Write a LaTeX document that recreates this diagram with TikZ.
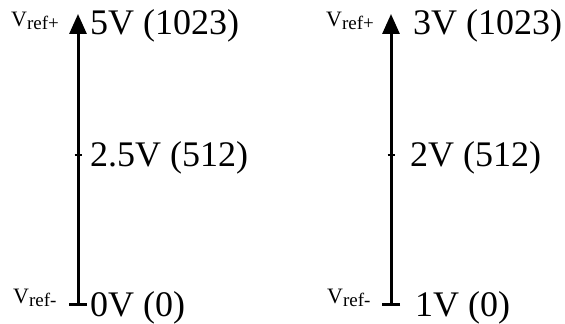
\documentclass[tikz,border=0pt]{standalone}
\usepackage{fontspec}
\setmainfont{Liberation Serif}
\usetikzlibrary{arrows.meta, positioning}
\tikzset{
  axis/.style={line width=3pt, {Bar[width=18pt]}-{Triangle[length=20pt,width=17pt]}},
  tick/.style={line width=1.2pt},
  value/.style={anchor=base west, inner sep=0pt, font=\fontsize{36}{40}\selectfont},
  vref/.style={anchor=base west, inner sep=0pt, font=\fontsize{22}{24}\selectfont},
}
\newcommand{\vrefsub}[1]{V\raisebox{-3pt}{\fontsize{19}{20}\selectfont ref#1}}

\begin{document}
\begin{tikzpicture}[x=1pt, y=1pt]
\useasboundingbox (0,0) rectangle (565,324);
% left scale
\coordinate (lo1) at (78,18);
\coordinate (hi1) at (78,310);
\coordinate (mid1) at (78,169);
\draw[axis] (lo1) -- (hi1);
\draw[tick] ([xshift=-3.5pt]mid1) -- ([xshift=3.5pt]mid1);
\node[vref] (vp1) at (11,297) {\vrefsub{+}};
\node[vref] (vm1) at (13,20) {\vrefsub{-}};
\node[value] (top1) at (90,289) {5V (1023)};
\node[value] (cen1) at (90,157) {2.5V (512)};
\node[value] (bot1) at (90,8) {0V (0)};
% right scale
\coordinate (lo2) at (391,18);
\coordinate (hi2) at (391,310);
\coordinate (mid2) at (391,169);
\draw[axis] (lo2) -- (hi2);
\draw[tick] ([xshift=-3.5pt]mid2) -- ([xshift=3.5pt]mid2);
\node[vref] (vp2) at (326,297) {\vrefsub{+}};
\node[vref] (vm2) at (327,20) {\vrefsub{-}};
\node[value] (top2) at (413,289) {3V (1023)};
\node[value] (cen2) at (410,157) {2V (512)};
\node[value] (bot2) at (415,8) {1V (0)};
\end{tikzpicture}
\end{document}
